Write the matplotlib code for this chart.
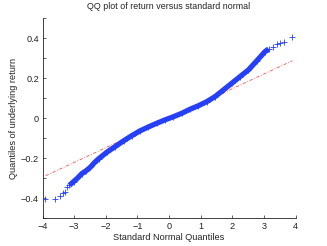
from matplotlib import pyplot as plt
import numpy as np

# standard normal quantiles vs quantiles of the return series
norm_q = [-3.92, -3.60, -3.46, -3.36, -3.28, -3.23,
          -3.15, -3.02, -2.90, -2.76, -2.62, -2.49, -2.36, -2.23, -1.97, -1.71,
          -1.44, -1.18, -0.92, -0.65, -0.39, -0.13, 0.14, 0.40, 0.66, 0.93,
          1.19, 1.45, 1.72, 1.98, 2.24, 2.51, 2.77, 3.03, 3.15,
          3.27, 3.40, 3.51, 3.63, 3.89]
ret_q = [-0.405, -0.405, -0.387, -0.375, -0.367, -0.345,
         -0.335, -0.317, -0.300, -0.277, -0.262, -0.245, -0.222, -0.203, -0.170, -0.142,
         -0.113, -0.087, -0.063, -0.043, -0.025, -0.008, 0.008, 0.025, 0.045, 0.063,
         0.083, 0.108, 0.142, 0.175, 0.208, 0.242, 0.287, 0.333, 0.347,
         0.358, 0.370, 0.375, 0.383, 0.408]

# reference line through the quartiles, extended to the data range
ref_x = [-3.90, 3.90]
ref_y = [-0.287, 0.288]

xticks = [-4, -3, -2, -1, 0, 1, 2, 3, 4]
yticks = [-0.5, -0.4, -0.3, -0.2, -0.1, 0, 0.1, 0.2, 0.3, 0.4, 0.5]
ylabels = ['', '\u22120.4', '', '\u22120.2', '', '0', '', '0.2', '', '0.4', '']

plt.rcParams['font.family'] = ['Liberation Sans', 'DejaVu Sans']

fig = plt.figure(figsize=(3.27, 2.46), dpi=100)
ax = fig.add_axes([0.130, 0.1126, 0.774, 0.813])

blue = (0.15, 0.25, 0.97)
ax.plot(norm_q[6:35], ret_q[6:35], color=blue, lw=3.8, solid_capstyle='butt', zorder=2)
ax.plot(norm_q, ret_q, '+', color=blue, ms=5, mew=0.6, zorder=3)
ax.plot(ref_x, ref_y, color=(1.0, 0.3, 0.3), lw=0.6, ls='-.', dashes=(4, 2, 1, 2), zorder=1)

ax.set_xlim(-4, 4)
ax.set_ylim(-0.5, 0.5)
ax.set_xticks(xticks)
ax.set_xticklabels(['\u2212%d' % -t if t < 0 else '%d' % t for t in xticks])
ax.set_yticks(yticks)
ax.set_yticklabels(ylabels)
ax.tick_params(direction='in', length=2.5, width=0.5, labelsize=6.6, pad=2.5, colors='#222222')

for s in ['top', 'right']:
    ax.spines[s].set_visible(False)
for s in ['left', 'bottom']:
    ax.spines[s].set_linewidth(0.6)
    ax.spines[s].set_color('#222222')

ax.set_title('QQ plot of return versus standard normal', fontsize=6.4, pad=6.5, color='#222222')
ax.set_xlabel('Standard Normal Quantiles', fontsize=6.6, labelpad=1.5, color='#222222')
ax.set_ylabel('Quantiles of underlying return', fontsize=6.6, labelpad=2, color='#222222')

fig.savefig('out.png', dpi=100)
